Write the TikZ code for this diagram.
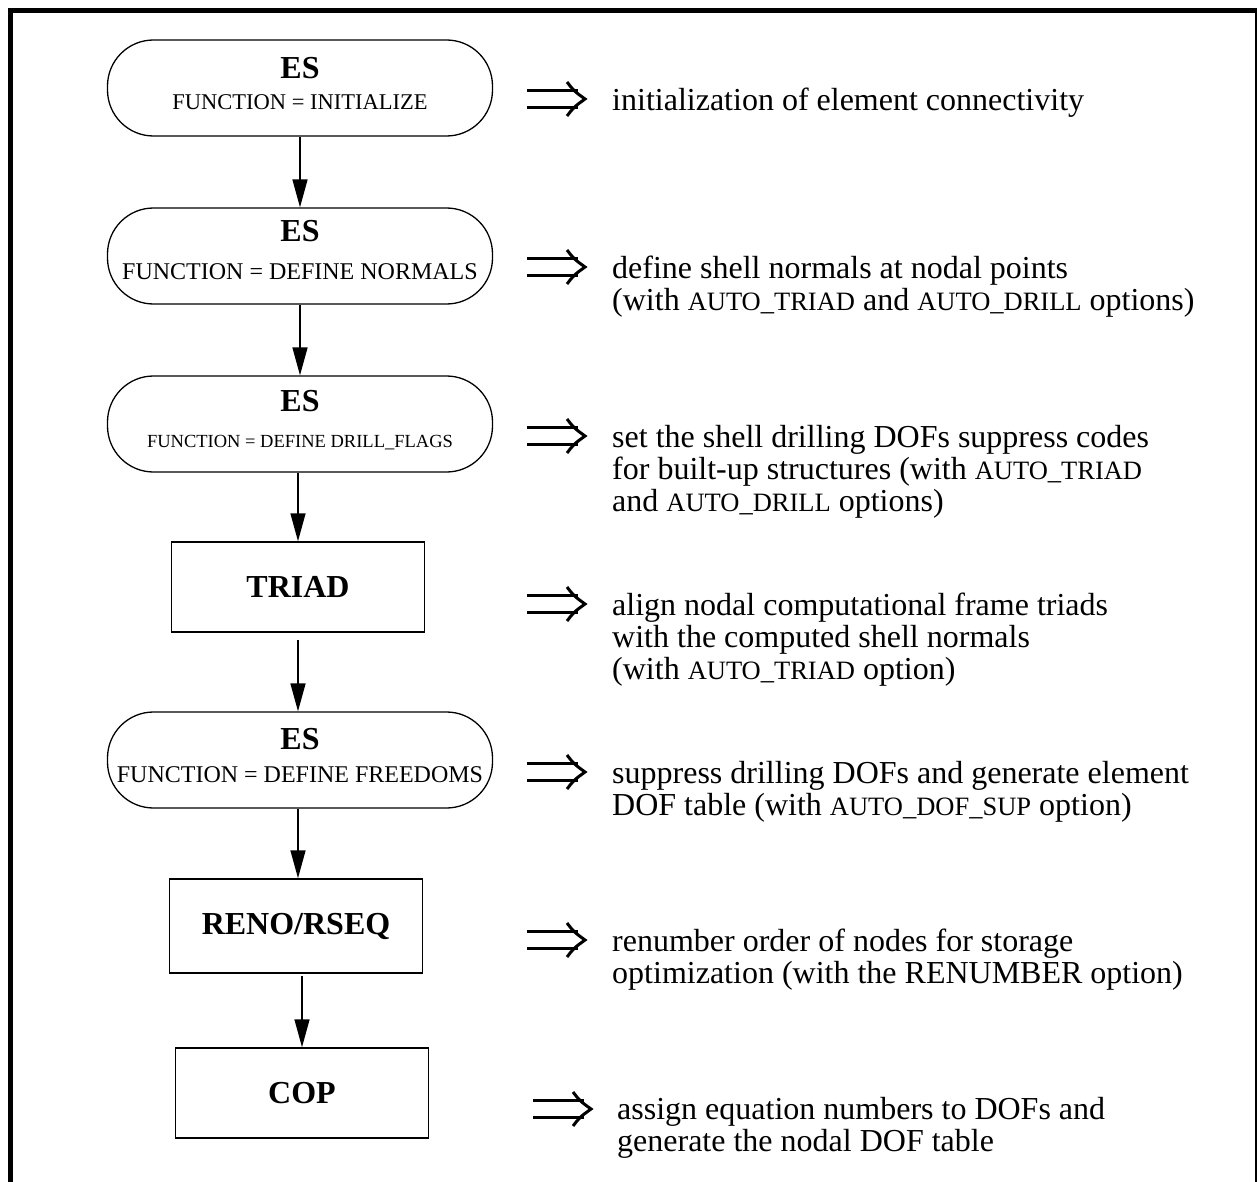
\documentclass[tikz,border=0pt]{standalone}
\usepackage{fontspec}
\setmainfont{Liberation Serif}
\usetikzlibrary{arrows.meta}
\newcommand\smc[1]{{\fontsize{26.5}{32}\selectfont #1}}
\begin{document}
\begin{tikzpicture}[x=1pt,y=-1pt,
  stad/.style={draw, line width=1.3pt, rounded corners=46pt, minimum width=385pt,
    minimum height=96pt, inner sep=0pt, align=center, font=\fontsize{24}{35}\selectfont},
  proc/.style={draw, line width=1.5pt, minimum width=253pt, minimum height=90pt,
    inner sep=0pt, font=\fontsize{32}{36}\selectfont\bfseries},
  desc/.style={anchor=north west, inner sep=0pt, align=left, font=\fontsize{32}{32}\selectfont},
  arr/.style={line width=1.5pt, -{Triangle[length=28pt,width=15pt]}},
  darr/.pic={
    \draw[line width=3.3pt] (0,-8.5) -- (51,-8.5) (0,8.5) -- (51,8.5);
    \draw[line width=3pt, line join=miter] (40,-17) .. controls (47,-8) .. (58,0) .. controls (47,8) .. (40,17);
  }]
\useasboundingbox (0,0) rectangle (1257,1182);
% frame
\draw[line width=5pt] (10,1182) -- (10,10.5) -- (1257,10.5);
\draw[line width=2pt] (1255.5,10.5) -- (1255.5,1182);

% flow nodes
\node[stad, font=\fontsize{22.5}{31}\selectfont] (n1) at (300,88) {{\fontsize{32}{31}\selectfont\bfseries ES}\\FUNCTION = INITIALIZE\strut};
\node[stad, font=\fontsize{24}{38}\selectfont] (n2) at (300,256) {{\fontsize{32}{38}\selectfont\bfseries ES}\\FUNCTION = DEFINE NORMALS\strut};
\node[stad, font=\fontsize{18.5}{36}\selectfont] (n3) at (300,424) {{\fontsize{32}{36}\selectfont\bfseries ES}\\FUNCTION = DEFINE DRILL\_FLAGS\strut};
\node[proc] (n4) at (298,587) {TRIAD};
\node[stad, font=\fontsize{24}{33}\selectfont] (n5) at (300,760) {{\fontsize{32}{33}\selectfont\bfseries ES}\\FUNCTION = DEFINE FREEDOMS\strut};
\node[proc, minimum height=94pt] (n6) at (296,926) {RENO/RSEQ};
\node[proc] (n7) at (302,1093) {COP};

% connectors
\draw[arr] (n1) -- (n2);
\draw[arr] (n2) -- (n3);
\draw[arr] (n3.south -| n4.north) -- (n4.north);
\draw[arr, shorten <=7pt] (n4.south) -- (n4.south |- n5.north);
\draw[arr] (n5.south -| n4.north) -- (n6.north -| n4.north);
\draw[arr, shorten <=2pt] (n6.south -| n7.north) -- (n7.north);

% implication arrows
\pic at (527,99) {darr};
\pic at (527,267) {darr};
\pic at (527,436) {darr};
\pic at (527,604) {darr};
\pic at (527,772) {darr};
\pic at (527,940) {darr};
\pic at (533,1109) {darr};

% descriptions
\node[desc] (d1) at (612,88) {initialization of element connectivity};
\node[desc] (d2) at (612,256) {define shell normals at nodal points\\(with \smc{AUTO\_TRIAD} and \smc{AUTO\_DRILL} options)};
\node[desc] (d3) at (612,425) {set the shell drilling DOFs suppress codes\\for built-up structures (with \smc{AUTO\_TRIAD}\\and \smc{AUTO\_DRILL} options)};
\node[desc] (d4) at (612,593) {align nodal computational frame triads\\with the computed shell normals\\(with \smc{AUTO\_TRIAD} option)};
\node[desc] (d5) at (612,761) {suppress drilling DOFs and generate element\\DOF table (with \smc{AUTO\_DOF\_SUP} option)};
\node[desc] (d6) at (612,929) {renumber order of nodes for storage\\optimization (with the RENUMBER option)};
\node[desc] (d7) at (617,1097) {assign equation numbers to DOFs and\\generate the nodal DOF table};
\end{tikzpicture}
\end{document}
